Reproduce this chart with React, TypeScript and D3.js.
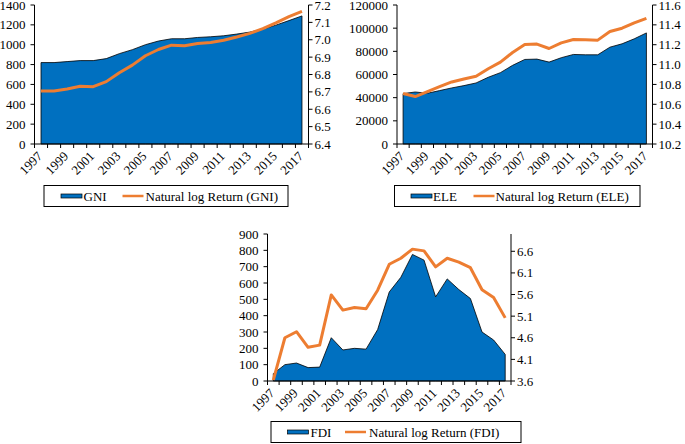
import React from "react";
import * as d3 from "d3";

const years = ["1997","1998","1999","2000","2001","2002","2003","2004","2005","2006","2007","2008","2009","2010","2011","2012","2013","2014","2015","2016","2017"];

const gniValues = [820,820,830,840,840,860,910,950,1000,1037,1060,1060,1073,1080,1090,1107,1127,1157,1197,1243,1290];
const gniLog = [6.705,6.705,6.717,6.732,6.730,6.759,6.81,6.854,6.908,6.944,6.969,6.965,6.978,6.984,6.997,7.016,7.037,7.064,7.097,7.133,7.163];

const eleValues = [43500,44900,43800,46100,48400,50400,52700,57600,61600,67900,73000,73300,70700,74500,77300,77000,77000,83600,86500,90800,95900];
const eleLog = [10.708,10.678,10.728,10.778,10.825,10.855,10.882,10.958,11.025,11.122,11.202,11.206,11.162,11.219,11.252,11.249,11.246,11.333,11.366,11.42,11.465];

const fdiValues = [45,100,110,82,85,265,190,200,195,315,545,635,775,740,515,625,560,505,300,251,163];
const fdiLog = [3.62,4.60,4.74,4.38,4.43,5.59,5.24,5.30,5.27,5.70,6.30,6.44,6.65,6.61,6.24,6.44,6.35,6.22,5.71,5.53,5.06];

const gniLeftTicks = [0,200,400,600,800,1000,1200,1400];
const gniRightTicks = [6.4,6.5,6.6,6.7,6.8,6.9,7.0,7.1,7.2];
const eleLeftTicks = [0,20000,40000,60000,80000,100000,120000];
const eleRightTicks = [10.2,10.4,10.6,10.8,11.0,11.2,11.4,11.6];
const fdiLeftTicks = [0,100,200,300,400,500,600,700,800,900];
const fdiRightTicks = [3.6,4.1,4.6,5.1,5.6,6.1,6.6];

const FONT = "Liberation Serif";
const BLUE = "#0070C0";
const ORANGE = "#ED7D31";

type ChartProps = {
  x0: number; x1: number; yTop: number; yBot: number;
  values: number[]; logs: number[];
  leftDomain: [number, number]; rightDomain: [number, number];
  leftTicks: number[]; rightTicks: number[];
  name: string;
  legend: { x: number; y: number; w: number; h: number; sw: number; txt: number; lw: number; ltxt: number };
};

const ts: React.CSSProperties = { fontFamily: FONT, fontSize: "13px" };

function Chart(p: ChartProps) {
  const x = d3.scaleBand<string>().domain(years).range([p.x0, p.x1]).padding(0);
  const cx = (i: number) => (x(years[i]) as number) + x.bandwidth() / 2;
  const yl = d3.scaleLinear().domain(p.leftDomain).range([p.yBot, p.yTop]);
  const yr = d3.scaleLinear().domain(p.rightDomain).range([p.yBot, p.yTop]);
  const area = d3.area<number>().x((_, i) => cx(i)).y0(yl(0)).y1((d) => yl(d));
  const line = d3.line<number>().x((_, i) => cx(i)).y((d) => yr(d));
  const rightFmt = d3.format(".1f");
  const L = p.legend;
  const midY = L.y + L.h / 2;
  return (
    <g style={ts} fill="#000">
      <path d={area(p.values) || ""} fill={BLUE} stroke="#000" strokeWidth={0.8} />
      <path d={line(p.logs) || ""} fill="none" stroke={ORANGE} strokeWidth={3} strokeLinejoin="round" />
      <line x1={p.x0} x2={p.x0} y1={p.yTop} y2={p.yBot} stroke="#000" strokeWidth={1} />
      {p.leftTicks.map((t) => (
        <g key={"l" + t}>
          <line x1={p.x0 - 4} x2={p.x0} y1={yl(t)} y2={yl(t)} stroke="#000" />
          <text style={ts} x={p.x0 - 9} y={yl(t)} dy="0.35em" textAnchor="end">{t}</text>
        </g>
      ))}
      <line x1={p.x1} x2={p.x1} y1={p.yTop} y2={p.yBot} stroke="#000" strokeWidth={1} />
      {p.rightTicks.map((t) => (
        <g key={"r" + t}>
          <line x1={p.x1} x2={p.x1 + 4} y1={yr(t)} y2={yr(t)} stroke="#000" />
          <text style={ts} x={p.x1 + 6} y={yr(t)} dy="0.35em" textAnchor="start">{rightFmt(t)}</text>
        </g>
      ))}
      <line x1={p.x0} x2={p.x1} y1={p.yBot} y2={p.yBot} stroke="#000" strokeWidth={1} />
      {years.map((yr_, i) => (
        <line key={"t" + i} x1={x(yr_) as number} x2={x(yr_) as number} y1={p.yBot} y2={p.yBot + 4} stroke="#000" />
      ))}
      <line x1={p.x1} x2={p.x1} y1={p.yBot} y2={p.yBot + 4} stroke="#000" />
      {years.map((yr_, i) =>
        i % 2 === 0 ? (
          <text style={ts} key={"x" + i} transform={`translate(${cx(i) + 2},${p.yBot + 13}) rotate(-45)`} textAnchor="end">{yr_}</text>
        ) : null
      )}
      <rect x={L.x} y={L.y} width={L.w} height={L.h} fill="#fff" stroke="#000" strokeWidth={1} />
      <rect x={L.sw} y={midY - 2} width={21} height={4} fill={BLUE} stroke="#000" strokeWidth={0.7} />
      <text style={ts} x={L.txt} y={midY} dy="0.35em">{p.name}</text>
      <line x1={L.lw} x2={L.lw + 21} y1={midY} y2={midY} stroke={ORANGE} strokeWidth={2.5} />
      <text style={ts} x={L.ltxt} y={midY} dy="0.35em">{`Natural log Return (${p.name})`}</text>
    </g>
  );
}

export default function App() {
  return (
    <svg width={685} height={444} style={{ position: "absolute", left: 0, top: 0, background: "#fff", fontFamily: FONT }}>
      <rect x={0} y={0} width={685} height={444} fill="#fff" />
      <Chart x0={34.5} x1={308.5} yTop={5} yBot={144} values={gniValues} logs={gniLog}
        leftDomain={[0, 1400]} rightDomain={[6.4, 7.2]} leftTicks={gniLeftTicks} rightTicks={gniRightTicks}
        name="GNI" legend={{ x: 44, y: 185.5, w: 244, h: 21, sw: 61, txt: 83.5, lw: 122.5, ltxt: 145.5 }} />
      <Chart x0={397} x1={652.5} yTop={5} yBot={144} values={eleValues} logs={eleLog}
        leftDomain={[0, 120000]} rightDomain={[10.2, 11.6]} leftTicks={eleLeftTicks} rightTicks={eleRightTicks}
        name="ELE" legend={{ x: 394.5, y: 185.5, w: 245.5, h: 21, sw: 411, txt: 433, lw: 473.5, ltxt: 495.5 }} />
      <Chart x0={267.5} x1={511} yTop={234} yBot={381} values={fdiValues} logs={fdiLog}
        leftDomain={[0, 900]} rightDomain={[3.6, 7.0]} leftTicks={fdiLeftTicks} rightTicks={fdiRightTicks}
        name="FDI" legend={{ x: 271, y: 421.5, w: 250, h: 21, sw: 287.5, txt: 310.5, lw: 345, ltxt: 369 }} />
    </svg>
  );
}
